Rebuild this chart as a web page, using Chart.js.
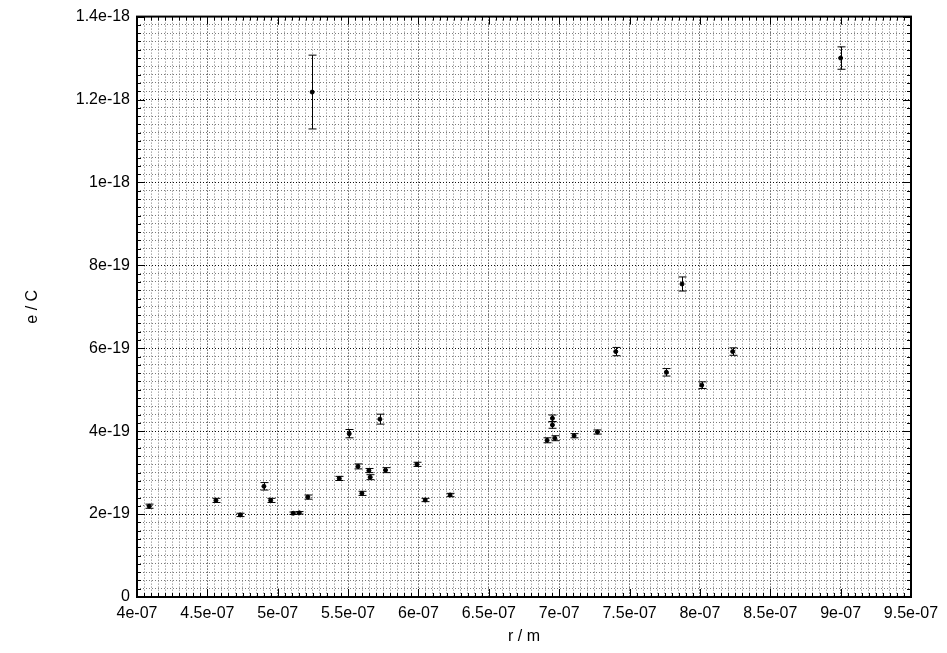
<!DOCTYPE html>
<html>
<head>
<meta charset="utf-8">
<script src="https://cdn.jsdelivr.net/npm/chart.js@4"></script>
<style>
  html,body{margin:0;padding:0;background:#fff;}
  #c{display:block;}
</style>
</head>
<body>
<canvas id="c" width="947" height="653"></canvas>
<script>
// ---- Data ----
const radius = [4.087e-7,4.561e-7,4.734e-7,4.902e-7,4.950e-7,5.110e-7,5.153e-7,5.214e-7,5.245e-7,5.437e-7,
  5.508e-7,5.570e-7,5.598e-7,5.648e-7,5.657e-7,5.726e-7,5.766e-7,5.989e-7,6.048e-7,6.225e-7,
  6.914e-7,6.969e-7,6.952e-7,6.952e-7,7.106e-7,7.272e-7,7.402e-7,7.762e-7,7.873e-7,8.013e-7,
  8.233e-7,9.000e-7];
const charge = [2.19e-19,2.33e-19,1.98e-19,2.67e-19,2.33e-19,2.02e-19,2.03e-19,2.41e-19,12.18e-19,2.86e-19,
  3.94e-19,3.15e-19,2.50e-19,3.05e-19,2.89e-19,4.29e-19,3.06e-19,3.20e-19,2.34e-19,2.46e-19,
  3.78e-19,3.83e-19,4.31e-19,4.15e-19,3.89e-19,3.98e-19,5.92e-19,5.42e-19,7.55e-19,5.11e-19,
  5.92e-19,13.00e-19];
const chargeErr = [0.05e-19,0.05e-19,0.04e-19,0.09e-19,0.05e-19,0.03e-19,0.03e-19,0.05e-19,0.89e-19,0.05e-19,
  0.10e-19,0.06e-19,0.05e-19,0.05e-19,0.06e-19,0.12e-19,0.06e-19,0.05e-19,0.04e-19,0.04e-19,
  0.06e-19,0.06e-19,0.08e-19,0.08e-19,0.05e-19,0.05e-19,0.10e-19,0.09e-19,0.17e-19,0.08e-19,
  0.09e-19,0.27e-19];

const xTicks = [4e-7,4.5e-7,5e-7,5.5e-7,6e-7,6.5e-7,7e-7,7.5e-7,8e-7,8.5e-7,9e-7,9.5e-7];
const xTickLabels = ['4e-07','4.5e-07','5e-07','5.5e-07','6e-07','6.5e-07','7e-07','7.5e-07','8e-07','8.5e-07','9e-07','9.5e-07'];
const yTicks = [0,2e-19,4e-19,6e-19,8e-19,1e-18,1.2e-18,1.4e-18];
const yTickLabels = ['0','2e-19','4e-19','6e-19','8e-19','1e-18','1.2e-18','1.4e-18'];
const xTitle = 'r / m', yTitle = 'e / C';
const MINOR = 10;

// ---- Helpers ----
function withMinors(majors){
  const out = [];
  for(let i=0;i<majors.length-1;i++){
    for(let k=0;k<MINOR;k++) out.push(majors[i]+(majors[i+1]-majors[i])*k/MINOR);
  }
  out.push(majors[majors.length-1]);
  return out;
}
const FONT = {family:'"Liberation Sans", Arial, sans-serif', size:16};

// frame, inward tick marks, error bars
const framePlugin = {
  id:'frame',
  afterDatasetsDraw(chart){
    const {ctx, chartArea:a, scales:{x,y}} = chart;
    ctx.save();
    // error bars
    ctx.strokeStyle = '#000'; ctx.lineWidth = 1;
    radius.forEach((r,i)=>{
      const px = Math.round(x.getPixelForValue(r))+0.5;
      const top = y.getPixelForValue(charge[i]+chargeErr[i]);
      const bot = y.getPixelForValue(charge[i]-chargeErr[i]);
      ctx.beginPath();
      ctx.moveTo(px,top); ctx.lineTo(px,bot);
      ctx.moveTo(px-4,top); ctx.lineTo(px+4,top);
      ctx.moveTo(px-4,bot); ctx.lineTo(px+4,bot);
      ctx.stroke();
    });
    // tick marks on all four sides
    ctx.lineWidth = 1;
    withMinors(xTicks).forEach((v,i)=>{
      const len = i%MINOR===0 ? 8 : 4;
      const px = Math.round(x.getPixelForValue(v))+0.5;
      ctx.beginPath();
      ctx.moveTo(px,a.bottom); ctx.lineTo(px,a.bottom-len);
      ctx.moveTo(px,a.top); ctx.lineTo(px,a.top+len);
      ctx.stroke();
    });
    withMinors(yTicks).forEach((v,i)=>{
      const len = i%MINOR===0 ? 8 : 4;
      const py = Math.round(y.getPixelForValue(v))+0.5;
      ctx.beginPath();
      ctx.moveTo(a.left,py); ctx.lineTo(a.left+len,py);
      ctx.moveTo(a.right,py); ctx.lineTo(a.right-len,py);
      ctx.stroke();
    });
    ctx.lineWidth = 2;
    ctx.strokeRect(a.left,a.top,a.right-a.left,a.bottom-a.top);
    ctx.restore();
  }
};

// ---- Chart ----
new Chart(document.getElementById('c'), {
  type:'scatter',
  data:{ datasets:[{
    data: radius.map((r,i)=>({x:r,y:charge[i]})),
    backgroundColor:'#000', borderColor:'#000', pointRadius:2, pointHoverRadius:2
  }]},
  options:{
    responsive:false, animation:false,
    layout:{ padding:{left:0,right:36,top:13,bottom:0} },
    plugins:{ legend:{display:false}, tooltip:{enabled:false} },
    scales:{
      x:{
        type:'linear', min:xTicks[0], max:xTicks[xTicks.length-1],
        afterBuildTicks:s=>{ s.ticks = withMinors(xTicks).map(v=>({value:v})); },
        afterFit:s=>{ s.height = 56; },
        ticks:{ autoSkip:false, maxRotation:0, padding:7, color:'#000', font:FONT,
          callback:(v,i)=> i%MINOR===0 ? xTickLabels[i/MINOR] : '' },
        grid:{ drawTicks:false, lineWidth:1, color:c=> c.index%MINOR===0 ? '#111' : '#7a7a7a' },
        border:{ display:false, dash:[1,2] },
        title:{ display:true, text:xTitle, color:'#000', font:FONT, padding:{top:0,bottom:7} }
      },
      y:{
        type:'linear', min:yTicks[0], max:yTicks[yTicks.length-1],
        afterBuildTicks:s=>{ s.ticks = withMinors(yTicks).map(v=>({value:v})); },
        afterFit:s=>{ s.width = 137; },
        ticks:{ autoSkip:false, padding:7, color:'#000', font:FONT,
          callback:(v,i)=> i%MINOR===0 ? yTickLabels[i/MINOR] : '' },
        grid:{ drawTicks:false, lineWidth:1, color:c=> c.index%MINOR===0 ? '#111' : '#7a7a7a' },
        border:{ display:false, dash:[1,2] },
        title:{ display:true, text:yTitle, color:'#000', font:FONT, padding:{top:23,bottom:0} }
      }
    }
  },
  plugins:[framePlugin]
});
</script>
</body>
</html>
